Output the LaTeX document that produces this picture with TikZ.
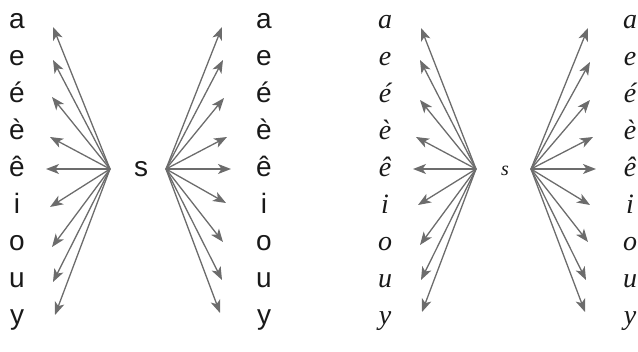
\documentclass[tikz,border=0pt]{standalone}
\usepackage{fontspec}
\setsansfont{Liberation Sans}
\newfontfamily\curfont{Liberation Serif}
\usetikzlibrary{arrows.meta}
\definecolor{arrowgray}{RGB}{108,108,108}
\definecolor{ink}{RGB}{25,25,25}
\begin{document}
\begin{tikzpicture}[x=1pt,y=-1pt,
  letter/.style={anchor=base,inner sep=0pt,text=ink,font=\sffamily\fontsize{28}{28}\selectfont},
  cletter/.style={anchor=base,inner sep=0pt,text=ink,font=\curfont\itshape\fontsize{28}{28}\selectfont},
  ray/.style={draw=arrowgray,line width=1.3pt,-{Stealth[length=13pt,width=10pt,inset=3.5pt]}}]
\useasboundingbox (0,0) rectangle (638,352);
% panel 1
\foreach \n/\t/\yb in {a/a/29,e/e/66,ea/é/103,eg/è/140,ec/ê/177,i/i/214,o/o/251,u/u/288,y/y/325}{
  \node[letter] (L1\n) at (17,\yb) {\t};
  \node[letter] (R1\n) at (264,\yb) {\t};
}
\node[letter] (s1) at (141,177) {s};
\coordinate (O1) at (110,169);
\coordinate (O2) at (166,169);
\foreach \n/\x/\y in {a/53/27,e/53/60,ea/52/97,eg/50/137,ec/46/169,i/50/207,o/52/247,u/53/282,y/55/315}{
  \coordinate (tl1\n) at (\x,\y);
  \draw[ray] (O1) -- (tl1\n);
}
\foreach \n/\x/\y in {a/222/27,e/223/60,ea/224/98,eg/227/137,ec/231/169,i/226/203,o/223/242,u/222/280,y/220/313}{
  \coordinate (tr1\n) at (\x,\y);
  \draw[ray] (O2) -- (tr1\n);
}
% panel 2
\foreach \n/\t/\yb in {a/a/29,e/e/66,ea/é/103,eg/è/140,ec/ê/177,i/i/214,o/o/251,u/u/288,y/y/325}{
  \node[cletter] (L2\n) at (385,\yb) {\t};
  \node[cletter] (R2\n) at (630,\yb) {\t};
}
\node[cletter,font=\curfont\itshape\fontsize{20}{20}\selectfont] (s2) at (505,176) {s};
\coordinate (O3) at (476,169);
\coordinate (O4) at (531,169);
\foreach \n/\x/\y in {a/421/28,e/420/60,ea/420/100,eg/416/137,ec/413/169,i/418/205,o/420/245,u/421/280,y/422/312}{
  \coordinate (tl2\n) at (\x,\y);
  \draw[ray] (O3) -- (tl2\n);
}
\foreach \n/\x/\y in {a/588/28,e/590/62,ea/590/100,eg/593/137,ec/596/169,i/590/205,o/588/242,u/586/280,y/585/312}{
  \coordinate (tr2\n) at (\x,\y);
  \draw[ray] (O4) -- (tr2\n);
}
\end{tikzpicture}
\end{document}
